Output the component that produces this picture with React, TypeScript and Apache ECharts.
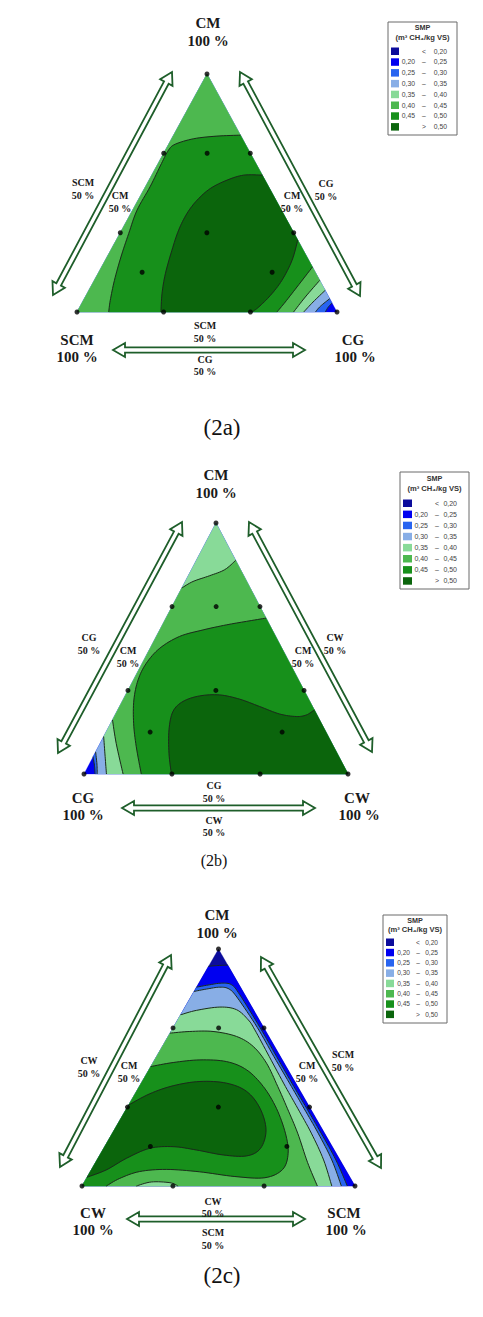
import React, { useEffect, useRef } from "react";
import * as echarts from "echarts";

type Pt = [number, number];

// SMP classes, m³ CH₄/kg VS (lowest to highest)
const bandColors = ["#0c0c9c", "#0000f0", "#2864f0", "#88aee6", "#88da98", "#4db84f", "#17901b", "#0b650c"];
const legendLow = ["", "0,20", "0,25", "0,30", "0,35", "0,40", "0,45", ""];
const legendSign = ["<", "–", "–", "–", "–", "–", "–", ">"];
const legendHigh = ["0,20", "0,25", "0,30", "0,35", "0,40", "0,45", "0,50", "0,50"];

// Mixture components of each diagram: [top vertex, left vertex, right vertex]
const compsA = ["CM", "SCM", "CG"];
const compsB = ["CM", "CG", "CW"];
const compsC = ["CM", "CW", "SCM"];
const captions = ["(2a)", "(2b)", "(2c)"];

// Simplex-lattice design points: [top, left, right] fractions
const designPoints: number[][] = [
  [1, 0, 0], [0, 1, 0], [0, 0, 1],
  [0.667, 0.333, 0], [0.333, 0.667, 0],
  [0.667, 0, 0.333], [0.333, 0, 0.667],
  [0, 0.667, 0.333], [0, 0.333, 0.667],
  [0.333, 0.333, 0.333],
  [0.667, 0.167, 0.167], [0.167, 0.667, 0.167], [0.167, 0.167, 0.667],
];

// Contour lines, [u, v]: u runs along the base (left vertex 0, right vertex 1), v towards the top vertex
// (2a) CM / SCM / CG
const a25: Pt[] = [[0.955, 0], [0.966, 0.02], [0.981, 0.038]];
const a30: Pt[] = [[0.917, 0], [0.936, 0.024], [0.972, 0.056]];
const a35: Pt[] = [[0.872, 0], [0.908, 0.042], [0.9545, 0.091]];
const a40: Pt[] = [[0.833, 0], [0.878, 0.063], [0.9335, 0.133]];
const a45top: Pt[] = [[0.6285, 0.743], [0.538, 0.739], [0.449, 0.728], [0.378, 0.705], [0.352, 0.68], [0.325, 0.624], [0.281, 0.526], [0.231, 0.428], [0.199, 0.33], [0.169, 0.231], [0.144, 0.133], [0.128, 0.049], [0.122, 0]];
const a45low: Pt[] = [[0.9055, 0.189], [0.846, 0.105], [0.801, 0.042], [0.769, 0]];
const a50top: Pt[] = [[0.7125, 0.575], [0.641, 0.575], [0.577, 0.554], [0.513, 0.519], [0.462, 0.47], [0.423, 0.414], [0.391, 0.344], [0.365, 0.259], [0.34, 0.161], [0.327, 0.077], [0.323, 0]];
const a50low: Pt[] = [[0.849, 0.302], [0.827, 0.217], [0.788, 0.133], [0.744, 0.07], [0.699, 0.021], [0.673, 0]];

// (2b) CM / CG / CW
const b25: Pt[] = [[0.0345, 0.069], [0.04, 0.03], [0.042, 0]];
const b30: Pt[] = [[0.044, 0.088], [0.049, 0.04], [0.05, 0]];
const b35: Pt[] = [[0.0745, 0.149], [0.08, 0.07], [0.085, 0]];
const b40corner: Pt[] = [[0.108, 0.215], [0.122, 0.122], [0.148, 0]];
const b40top: Pt[] = [[0.3705, 0.741], [0.413, 0.767], [0.476, 0.79], [0.533, 0.814], [0.5745, 0.851]];
const b45: Pt[] = [[0.6895, 0.621], [0.615, 0.608], [0.539, 0.594], [0.451, 0.574], [0.362, 0.548], [0.287, 0.501], [0.236, 0.441], [0.205, 0.375], [0.189, 0.295], [0.188, 0.202], [0.198, 0.109], [0.217, 0]];
const b50: Pt[] = [[0.331, 0], [0.322, 0.082], [0.322, 0.176], [0.337, 0.249], [0.375, 0.289], [0.438, 0.311], [0.514, 0.315], [0.59, 0.298], [0.665, 0.269], [0.741, 0.239], [0.804, 0.229], [0.842, 0.235], [0.8725, 0.255]];

// (2c) CM / CW / SCM
const c20: Pt[] = [[0.4635, 0.927], [0.493, 0.93], [0.534, 0.932]];
const c25: Pt[] = [[0.4195, 0.839], [0.462, 0.848], [0.511, 0.856], [0.548, 0.849], [0.578, 0.807], [0.652, 0.669], [0.713, 0.546], [0.776, 0.42], [0.823, 0.328], [0.876, 0.223], [0.93, 0.11], [0.972, 0]];
const c30: Pt[] = [[0.4105, 0.821], [0.456, 0.831], [0.505, 0.839], [0.539, 0.831], [0.57, 0.793], [0.642, 0.669], [0.703, 0.546], [0.767, 0.42], [0.813, 0.328], [0.865, 0.223], [0.915, 0.11], [0.95, 0]];
const c35: Pt[] = [[0.3613, 0.7225], [0.419, 0.741], [0.505, 0.755], [0.566, 0.744], [0.609, 0.701], [0.633, 0.659], [0.686, 0.546], [0.745, 0.42], [0.79, 0.328], [0.84, 0.223], [0.885, 0.11], [0.915, 0]];
const c40: Pt[] = [[0.3225, 0.645], [0.395, 0.652], [0.48, 0.652], [0.566, 0.631], [0.627, 0.589], [0.676, 0.518], [0.717, 0.42], [0.752, 0.328], [0.79, 0.223], [0.826, 0.1], [0.862, 0]];
const c40dip: Pt[] = [[0.199, 0], [0.254, 0.017], [0.322, 0.014], [0.352, 0]];
const c45: Pt[] = [[0.252, 0.504], [0.334, 0.521], [0.432, 0.532], [0.529, 0.525], [0.603, 0.49], [0.664, 0.42], [0.712, 0.328], [0.745, 0.223], [0.755, 0.138], [0.735, 0.07], [0.67, 0.035], [0.56, 0.04], [0.43, 0.06], [0.309, 0.07], [0.211, 0.061], [0.138, 0.032], [0.089, 0]];
const c50: Pt[] = [[0.171, 0.342], [0.248, 0.389], [0.334, 0.423], [0.432, 0.441], [0.529, 0.434], [0.603, 0.399], [0.652, 0.328], [0.674, 0.237], [0.654, 0.159], [0.603, 0.127], [0.517, 0.131], [0.419, 0.152], [0.334, 0.166], [0.248, 0.159], [0.163, 0.117], [0.089, 0.068], [0.0185, 0.037]];

const LEFT: Pt = [0, 0];
const RIGHT: Pt = [1, 0];
const APEX: Pt = [0.5, 1];
const rev = (c: Pt[]): Pt[] => [...c].reverse();

type Region = { band: number; parts: Pt[][] };

const regionsA: Region[] = [
  { band: 1, parts: [[LEFT], [RIGHT], [APEX]] },
  { band: 2, parts: [a25, [APEX], [LEFT]] },
  { band: 3, parts: [a30, [APEX], [LEFT]] },
  { band: 4, parts: [a35, [APEX], [LEFT]] },
  { band: 5, parts: [a40, [APEX], [LEFT]] },
  { band: 6, parts: [a45top, rev(a45low)] },
  { band: 7, parts: [a50top, rev(a50low)] },
];
const regionsB: Region[] = [
  { band: 1, parts: [[LEFT], [RIGHT], [APEX]] },
  { band: 2, parts: [b25, [RIGHT], [APEX]] },
  { band: 3, parts: [b30, [RIGHT], [APEX]] },
  { band: 4, parts: [b35, [RIGHT], [APEX]] },
  { band: 5, parts: [b40corner, [RIGHT], rev(b40top)] },
  { band: 6, parts: [b45, [RIGHT]] },
  { band: 7, parts: [b50, [RIGHT]] },
];
const regionsC: Region[] = [
  { band: 0, parts: [[LEFT], [RIGHT], [APEX]] },
  { band: 1, parts: [c20, [RIGHT], [LEFT]] },
  { band: 2, parts: [c25, [LEFT]] },
  { band: 3, parts: [c30, [LEFT]] },
  { band: 4, parts: [c35, [LEFT]] },
  { band: 5, parts: [c40, [LEFT]] },
  { band: 4, parts: [c40dip] },
  { band: 6, parts: [c45, [LEFT]] },
  { band: 7, parts: [c50] },
];

const plots = [
  {
    comps: compsA, regions: regionsA,
    lines: [a25, a30, a35, a40, a45top, a45low, a50top, a50low],
    grid: { left: 77, top: 74, width: 260, height: 238 },
    top: [208, 23], left: [77, 340], right: [353, 340],
    baseX: 205, baseY: [325, 338, 359, 371],
    leftOuter: [83, 182], leftInner: [120, 195], rightInner: [292, 195], rightOuter: [326, 183],
    caption: [222, 427, 23],
    arrows: [[53, 295, 172, 72], [240, 72, 360, 296], [113, 350, 305, 350]],
    legend: { x: 388, y: 22, w: 69, h: 113, t1: 27, t2: 37, r0: 51, step: 10.8, sw: 8, c1: 27, sg: 36, c2: 59, fs: 6.8 },
  },
  {
    comps: compsB, regions: regionsB,
    lines: [b25, b30, b35, b40corner, b40top, b45, b50],
    grid: { left: 84, top: 523, width: 264, height: 251 },
    top: [216, 475], left: [83, 798], right: [357, 798],
    baseX: 214, baseY: [785, 798, 820, 832],
    leftOuter: [89, 637], leftInner: [128, 650], rightInner: [303, 650], rightOuter: [335, 637],
    caption: [214, 860, 16],
    arrows: [[58, 753, 182, 522], [249, 522, 372, 752], [122, 808, 315, 808]],
    legend: { x: 400, y: 472, w: 69, h: 117, t1: 478, t2: 488, r0: 503, step: 11.1, sw: 9, c1: 28, sg: 37, c2: 57, fs: 7 },
  },
  {
    comps: compsC, regions: regionsC,
    lines: [c20, c25, c30, c35, c40, c40dip, c45, c50],
    grid: { left: 82, top: 949, width: 273, height: 237 },
    top: [217, 915], left: [93, 1213], right: [344, 1213],
    baseX: 213, baseY: [1201, 1213, 1232, 1245],
    leftOuter: [89, 1060], leftInner: [129, 1065], rightInner: [307, 1065], rightOuter: [343, 1054],
    caption: [222, 1275, 23],
    arrows: [[60, 1167, 171, 955], [261, 957, 381, 1168], [127, 1219, 305, 1219]],
    legend: { x: 383, y: 915, w: 64, h: 108, t1: 920, t2: 929, r0: 942, step: 10.3, sw: 8, c1: 27, sg: 35, c2: 55, fs: 6.6 },
  },
];

const serif = "'Liberation Serif', 'Times New Roman', serif";
const sans = "'Liberation Sans', Arial, sans-serif";

// Catmull-Rom smoothing of pixel points for drawing the contour curves
function smoothPx(pts: number[][], steps = 8): number[][] {
  if (pts.length < 3) return pts;
  const out: number[][] = [];
  const n = pts.length;
  for (let i = 0; i < n - 1; i++) {
    const p0 = pts[Math.max(i - 1, 0)], p1 = pts[i], p2 = pts[i + 1], p3 = pts[Math.min(i + 2, n - 1)];
    for (let s = 0; s < steps; s++) {
      const t = s / steps, t2 = t * t, t3 = t2 * t;
      const q = [0, 1].map((k) =>
        0.5 * (2 * p1[k] + (-p0[k] + p2[k]) * t + (2 * p0[k] - 5 * p1[k] + 4 * p2[k] - p3[k]) * t2 + (-p0[k] + 3 * p1[k] - 3 * p2[k] + p3[k]) * t3)
      );
      out.push(q);
    }
  }
  out.push(pts[n - 1]);
  return out;
}

function arrowPoints(x1: number, y1: number, x2: number, y2: number): number[][] {
  const dx = x2 - x1, dy = y2 - y1, len = Math.hypot(dx, dy);
  const ux = dx / len, uy = dy / len, nx = -uy, ny = ux;
  const s = 2.6, h = 7, L = 12;
  const local = [[0, 0], [L, h], [L, s], [len - L, s], [len - L, h], [len, 0], [len - L, -h], [len - L, -s], [L, -s], [L, -h]];
  return local.map(([t, n]) => [x1 + ux * t + nx * n, y1 + uy * t + ny * n]);
}

function txt(text: string, x: number, y: number, size: number, bold = true, family = serif, fill = "#1a1a1a", align = "center"): any {
  return {
    type: "text", x, y, z: 10,
    style: {
      text, fill, font: `${bold ? "bold " : ""}${size}px ${family}`,
      textAlign: align, textVerticalAlign: "middle", align, verticalAlign: "middle",
    },
  };
}

function buildGraphics(): any[] {
  const g: any[] = [];
  plots.forEach((p, pi) => {
    const [cTop, cLeft, cRight] = p.comps;
    g.push(txt(cTop, p.top[0], p.top[1], 15), txt("100 %", p.top[0], p.top[1] + 18, 15));
    g.push(txt(cLeft, p.left[0], p.left[1], 15), txt("100 %", p.left[0], p.left[1] + 17, 15));
    g.push(txt(cRight, p.right[0], p.right[1], 15), txt("100 %", p.right[0] + 2, p.right[1] + 17, 15));
    g.push(txt(cLeft, p.baseX, p.baseY[0], 10), txt("50 %", p.baseX, p.baseY[1], 10));
    g.push(txt(cRight, p.baseX, p.baseY[2], 10), txt("50 %", p.baseX, p.baseY[3], 10));
    g.push(txt(cLeft, p.leftOuter[0], p.leftOuter[1], 10), txt("50 %", p.leftOuter[0], p.leftOuter[1] + 13, 10));
    g.push(txt(cTop, p.leftInner[0], p.leftInner[1], 10), txt("50 %", p.leftInner[0], p.leftInner[1] + 13, 10));
    g.push(txt(cTop, p.rightInner[0], p.rightInner[1], 10), txt("50 %", p.rightInner[0], p.rightInner[1] + 13, 10));
    g.push(txt(cRight, p.rightOuter[0], p.rightOuter[1], 10), txt("50 %", p.rightOuter[0], p.rightOuter[1] + 13, 10));
    g.push(txt(captions[pi], p.caption[0], p.caption[1], p.caption[2], false, serif, "#111"));
    p.arrows.forEach((a) => {
      g.push({
        type: "polygon", z: 5,
        shape: { points: arrowPoints(a[0], a[1], a[2], a[3]) },
        style: { fill: "#ffffff", stroke: "#1e5e2a", lineWidth: 1.8 },
      });
    });
    const L = p.legend;
    g.push({ type: "rect", z: 5, shape: { x: L.x, y: L.y, width: L.w, height: L.h }, style: { fill: "#fff", stroke: "#6a6a6a", lineWidth: 1 } });
    g.push(txt("SMP", L.x + L.w / 2, L.t1, 7.2, true, sans, "#333"));
    g.push(txt("(m³ CH₄/kg VS)", L.x + L.w / 2, L.t2, 7.6, true, sans, "#333"));
    bandColors.forEach((col, i) => {
      const y = L.r0 + i * L.step;
      g.push({ type: "rect", z: 6, shape: { x: L.x + 3, y: y - 3.5, width: L.sw, height: 7.5 }, style: { fill: col } });
      if (legendLow[i]) g.push(txt(legendLow[i], L.x + L.c1, y, L.fs, false, sans, "#444", "right"));
      g.push(txt(legendSign[i], L.x + L.sg, y, L.fs, false, sans, "#444"));
      g.push(txt(legendHigh[i], L.x + L.c2, y, L.fs, false, sans, "#444", "right"));
    });
  });
  return g;
}

export default function App() {
  const ref = useRef<HTMLDivElement>(null);
  useEffect(() => {
    document.body.style.margin = "0";
    if (!ref.current) return;
    const chart = echarts.init(ref.current, null, { renderer: "svg" });

    const series: any[] = [];
    plots.forEach((p, gi) => {
      series.push({
        type: "custom", coordinateSystem: "cartesian2d", xAxisIndex: gi, yAxisIndex: gi, silent: true, z: 1,
        data: p.regions.map(() => [0, 0]),
        renderItem: (params: any, api: any) => {
          const r = p.regions[params.dataIndex];
          const pts: number[][] = [];
          r.parts.forEach((part) => {
            const px = part.map((q) => api.coord(q));
            smoothPx(px).forEach((q) => pts.push(q));
          });
          return { type: "polygon", shape: { points: pts }, style: { fill: bandColors[r.band], stroke: bandColors[r.band], lineWidth: 0.3 } };
        },
      });
      series.push({
        type: "custom", coordinateSystem: "cartesian2d", xAxisIndex: gi, yAxisIndex: gi, silent: true, z: 2,
        data: p.lines.map(() => [0, 0]),
        renderItem: (params: any, api: any) => {
          const px = p.lines[params.dataIndex].map((q) => api.coord(q));
          return { type: "polyline", shape: { points: smoothPx(px) }, style: { fill: "none", stroke: "#1b2a1b", lineWidth: 1 } };
        },
      });
      series.push({
        type: "scatter", xAxisIndex: gi, yAxisIndex: gi, z: 3, clip: false, silent: true,
        symbolSize: 5, itemStyle: { color: "#000" },
        data: designPoints.map(([t, , r]) => [r + t / 2, t]),
      });
    });

    chart.setOption({
      animation: false,
      grid: plots.map((p) => ({ ...p.grid })),
      xAxis: plots.map((_, i) => ({ type: "value", gridIndex: i, min: 0, max: 1, show: false })),
      yAxis: plots.map((_, i) => ({ type: "value", gridIndex: i, min: 0, max: 1, show: false })),
      series,
      graphic: buildGraphics(),
    });
    return () => chart.dispose();
  }, []);
  return <div ref={ref} style={{ width: 483, height: 1317 }} />;
}
